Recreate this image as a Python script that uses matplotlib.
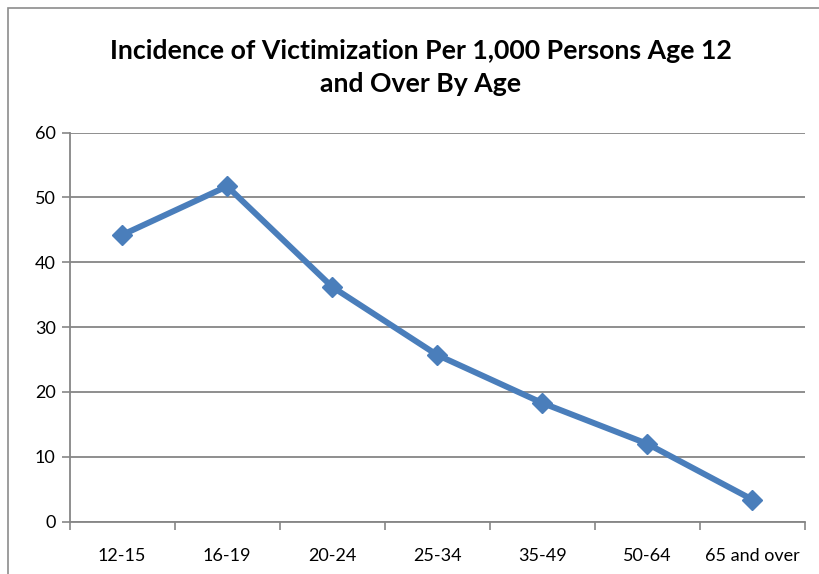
import matplotlib
matplotlib.use("Agg")
import matplotlib.pyplot as plt
from matplotlib.patches import Rectangle
import numpy as np

categories = ["12-15", "16-19", "20-24", "25-34", "35-49", "50-64", "65 and over"]
values = [44.2, 51.7, 36.2, 25.7, 18.3, 12.0, 3.4]
y_ticks = [0, 10, 20, 30, 40, 50, 60]
title = "Incidence of Victimization Per 1,000 Persons Age 12\nand Over By Age"

plt.rcParams['font.family'] = ['Lato', 'DejaVu Sans']

fig = plt.figure(figsize=(8.19, 5.74), dpi=100)
W, H = 819, 574
ax = fig.add_axes([69.5 / W, 1 - 521.7 / H, (805 - 69.5) / W, (521.7 - 132.5) / H])

# outer chart-area border
fig.patches.append(Rectangle((8 / W, -0.1), 1.2, 1 - 8 / H + 0.1, transform=fig.transFigure,
                             fill=False, edgecolor="#8c8c8c", linewidth=1.2))

x = np.arange(len(categories))
ax.plot(x, values, color="#4A7EBB", linewidth=4.3, marker="D", markersize=10.5,
        markeredgecolor="#4A7EBB", markerfacecolor="#4A7EBB", zorder=3, solid_joinstyle="round")

ax.set_xlim(-0.5, len(categories) - 0.5)
ax.set_ylim(0, 60)
ax.set_yticks(y_ticks)
ax.set_yticklabels([str(v) for v in y_ticks], fontsize=13, color="#000000")
ax.set_xticks(x)
ax.set_xticklabels(categories, fontsize=13, color="#000000")
ax.set_xticks(np.arange(-0.5, len(categories)), minor=True)
ax.tick_params(axis="x", which="major", length=0, pad=19)
ax.tick_params(axis="x", which="minor", length=6, width=1.2, color="#868686", direction="out")
ax.tick_params(axis="y", length=6, width=1.2, color="#868686", direction="out", pad=4)

ax.yaxis.grid(True, color="#868686", linewidth=1.3)
ax.set_axisbelow(True)
for s in ["top", "right"]:
    ax.spines[s].set_visible(False)
for s in ["left", "bottom"]:
    ax.spines[s].set_color("#868686")
    ax.spines[s].set_linewidth(1.3)

fig.text(0.514, 1 - 67.5 / H, title, ha="center", va="center", fontsize=19.2, fontweight="bold",
         linespacing=1.45)

fig.savefig("out.png", dpi=100)
